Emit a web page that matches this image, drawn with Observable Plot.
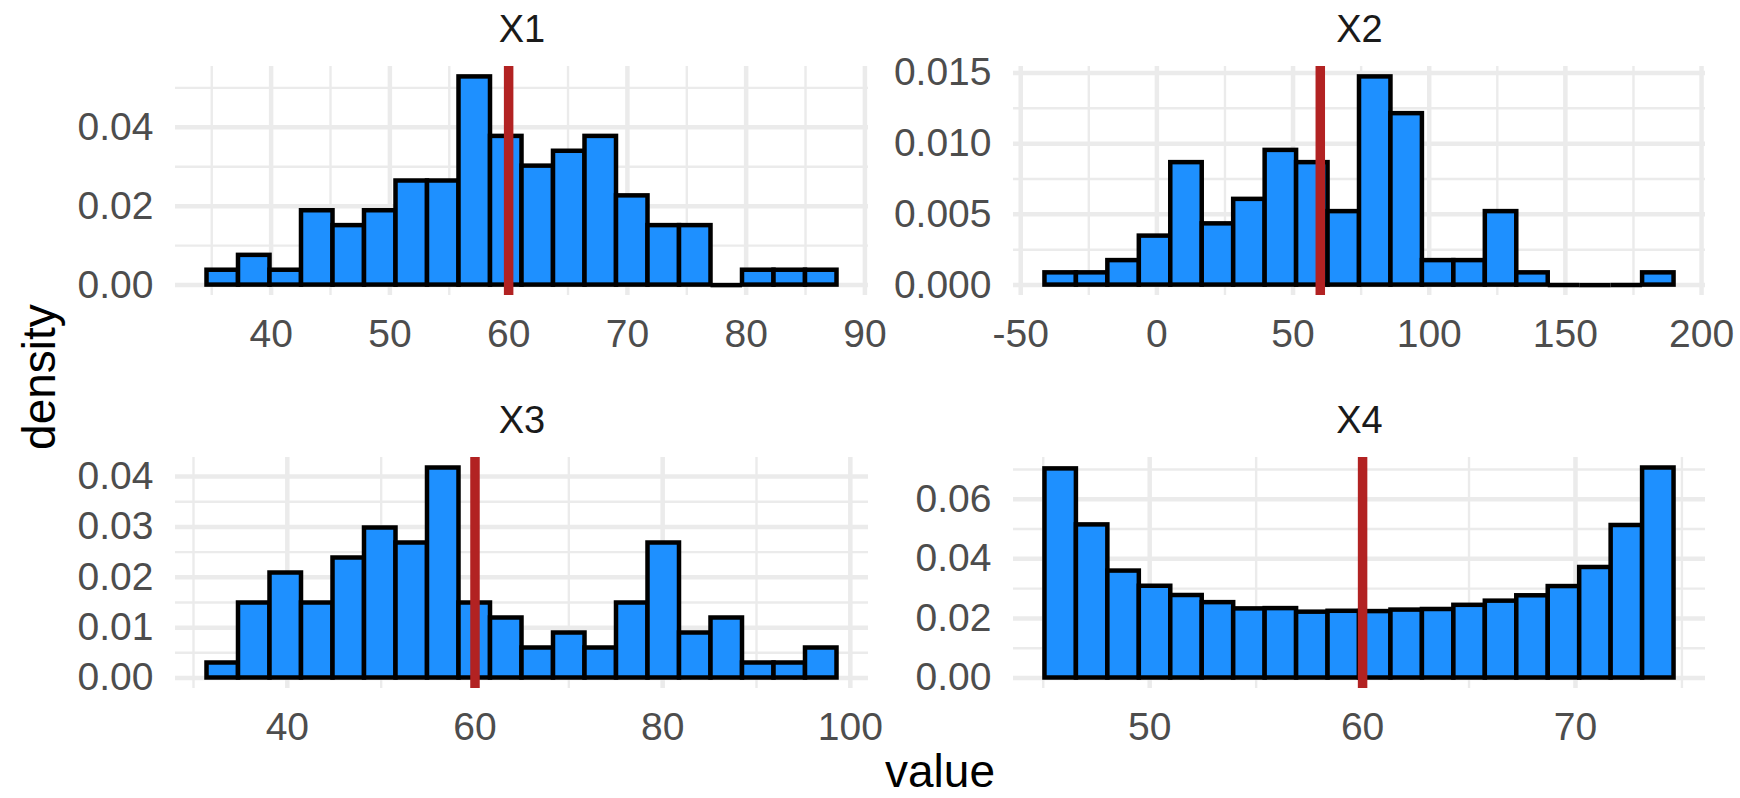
<!DOCTYPE html>
<html>
<head>
<meta charset="utf-8">
<script src="https://cdn.jsdelivr.net/npm/d3@7"></script>
<script src="https://cdn.jsdelivr.net/npm/@observablehq/plot@0.6"></script>
<style>
  body { margin: 0; background: #ffffff; }
  #chart { position: relative; width: 1740px; height: 798px; background: #ffffff; overflow: hidden; }
  .facet { position: absolute; }
  #titles { position: absolute; left: 0; top: 0; pointer-events: none; }
</style>
</head>
<body>
<div id="chart"></div>
<script>
// ---- data: 20-bin histograms of four samples (n = 100 for X1–X3) ----
const facetNames = ["X1", "X2", "X3", "X4"];

// bin counts, first bin edge and bin width
const x1Counts = [1, 2, 1, 5, 4, 5, 7, 7, 14, 10, 8, 9, 10, 6, 4, 4, 0, 1, 1, 1];
const x1Start = 34.6, x1Width = 2.6525;

const x2Counts = [1, 1, 2, 4, 10, 5, 7, 11, 10, 6, 17, 14, 2, 2, 6, 1, 0, 0, 0, 1];
const x2Start = -41.1, x2Width = 11.55;

const x3Counts = [1, 5, 7, 5, 8, 10, 9, 14, 5, 4, 2, 3, 2, 5, 9, 3, 4, 1, 1, 2];
const x3Start = 31.44, x3Width = 3.357;

// X4 is a large sample; densities per bin
const x4Density = [0.0702, 0.0514, 0.0359, 0.0308, 0.0277, 0.0253, 0.0232, 0.0233, 0.0221, 0.0224,
                   0.0223, 0.0228, 0.0230, 0.0244, 0.0258, 0.0276, 0.0307, 0.0371, 0.0512, 0.0705];
const x4Start = 45.08, x4Width = 1.4775;

// reference value marked in every facet
const referenceValue = 60;

// tick positions (major labelled, minor grid only)
const x1Major = [40, 50, 60, 70, 80, 90], x1Minor = [35, 45, 55, 65, 75, 85];
const y1Major = [0, 0.02, 0.04],          y1Minor = [0.01, 0.03, 0.05];
const x2Major = [-50, 0, 50, 100, 150, 200], x2Minor = [-25, 25, 75, 125, 175];
const y2Major = [0, 0.005, 0.010, 0.015],    y2Minor = [0.0025, 0.0075, 0.0125];
const x3Major = [40, 60, 80, 100],        x3Minor = [30, 50, 70, 90];
const y3Major = [0, 0.01, 0.02, 0.03, 0.04], y3Minor = [0.005, 0.015, 0.025, 0.035];
const x4Major = [50, 60, 70],             x4Minor = [45, 55, 65, 75];
const y4Major = [0, 0.02, 0.04, 0.06],    y4Minor = [0.01, 0.03, 0.05, 0.07];

// ---- turn counts into density bins ----
function countBins(counts, start, width) {
  const n = d3.sum(counts);
  return counts.map((c, i) => ({x1: start + i * width, x2: start + (i + 1) * width, density: c / (n * width)}));
}
function densityBins(dens, start, width) {
  return dens.map((d, i) => ({x1: start + i * width, x2: start + (i + 1) * width, density: d}));
}

const facets = [
  {name: facetNames[0], bins: countBins(x1Counts, x1Start, x1Width), xMajor: x1Major, xMinor: x1Minor, yMajor: y1Major, yMinor: y1Minor, yFormat: d3.format(".2f")},
  {name: facetNames[1], bins: countBins(x2Counts, x2Start, x2Width), xMajor: x2Major, xMinor: x2Minor, yMajor: y2Major, yMinor: y2Minor, yFormat: d3.format(".3f")},
  {name: facetNames[2], bins: countBins(x3Counts, x3Start, x3Width), xMajor: x3Major, xMinor: x3Minor, yMajor: y3Major, yMinor: y3Minor, yFormat: d3.format(".2f")},
  {name: facetNames[3], bins: densityBins(x4Density, x4Start, x4Width), xMajor: x4Major, xMinor: x4Minor, yMajor: y4Major, yMinor: y4Minor, yFormat: d3.format(".2f")}
];

// ---- layout of the 2 x 2 grid ----
const layout = [
  {left: 0,   top: 0,   width: 870, height: 380, marginLeft: 175, marginRight: 2,  marginTop: 66, marginBottom: 85},
  {left: 870, top: 0,   width: 870, height: 380, marginLeft: 143, marginRight: 35, marginTop: 66, marginBottom: 85},
  {left: 0,   top: 380, width: 870, height: 380, marginLeft: 175, marginRight: 2,  marginTop: 77, marginBottom: 72},
  {left: 870, top: 380, width: 870, height: 380, marginLeft: 143, marginRight: 35, marginTop: 77, marginBottom: 72}
];

const FONT = "'Liberation Sans', Arial, Helvetica, sans-serif";
const GRID = "#EBEBEB";
const TICK_FONT = 39;
const chart = document.getElementById("chart");

facets.forEach((f, i) => {
  const L = layout[i];
  const lo = f.bins[0].x1, hi = f.bins[f.bins.length - 1].x2, span = hi - lo;
  const ymax = d3.max(f.bins, d => d.density);
  const zeroBins = f.bins.filter(d => d.density === 0);

  const svg = Plot.plot({
    width: L.width,
    height: L.height,
    marginLeft: L.marginLeft,
    marginRight: L.marginRight,
    marginTop: L.marginTop,
    marginBottom: L.marginBottom,
    style: {fontFamily: FONT, fontSize: TICK_FONT + "px", background: "transparent", overflow: "visible"},
    x: {domain: [lo - 0.05 * span, hi + 0.05 * span]},
    y: {domain: [-0.05 * ymax, 1.05 * ymax]},
    marks: [
      Plot.ruleX(f.xMinor, {stroke: GRID, strokeWidth: 2.4}),
      Plot.ruleY(f.yMinor, {stroke: GRID, strokeWidth: 2.4}),
      Plot.ruleX(f.xMajor, {stroke: GRID, strokeWidth: 4.5}),
      Plot.ruleY(f.yMajor, {stroke: GRID, strokeWidth: 4.5}),
      Plot.rect(f.bins, {x1: "x1", x2: "x2", y1: () => 0, y2: "density", fill: "#1E90FF", stroke: "#000000", strokeWidth: 4.5}),
      Plot.ruleY(zeroBins, {x1: "x1", x2: "x2", y: () => 0, stroke: "#000000", strokeWidth: 4.5}),
      Plot.ruleX([referenceValue], {stroke: "#B22222", strokeWidth: 9.5}),
      Plot.axisX({ticks: f.xMajor, tickSize: 0, tickPadding: 24, tickFormat: d => String(d), color: "#4D4D4D", fontSize: TICK_FONT, label: null}),
      Plot.axisY({ticks: f.yMajor, tickSize: 0, tickPadding: 22, tickFormat: f.yFormat, color: "#4D4D4D", fontSize: TICK_FONT, label: null}),
      Plot.text([f.name], {text: d => d, frameAnchor: "top", dy: -25, lineAnchor: "bottom", fill: "#1A1A1A", fontSize: 38})
    ]
  });

  const holder = document.createElement("div");
  holder.className = "facet";
  holder.style.left = L.left + "px";
  holder.style.top = L.top + "px";
  holder.style.width = L.width + "px";
  holder.style.height = L.height + "px";
  holder.appendChild(svg);
  chart.appendChild(holder);
});

// ---- shared axis titles ----
const titles = d3.select(chart).append("svg")
  .attr("id", "titles")
  .attr("width", 1740)
  .attr("height", 798)
  .style("font-family", FONT);

titles.append("text")
  .attr("transform", "translate(55,377) rotate(-90)")
  .attr("text-anchor", "middle")
  .attr("font-size", 46)
  .attr("fill", "#000000")
  .text("density");

titles.append("text")
  .attr("x", 940)
  .attr("y", 787)
  .attr("text-anchor", "middle")
  .attr("font-size", 46)
  .attr("fill", "#000000")
  .text("value");
</script>
</body>
</html>
